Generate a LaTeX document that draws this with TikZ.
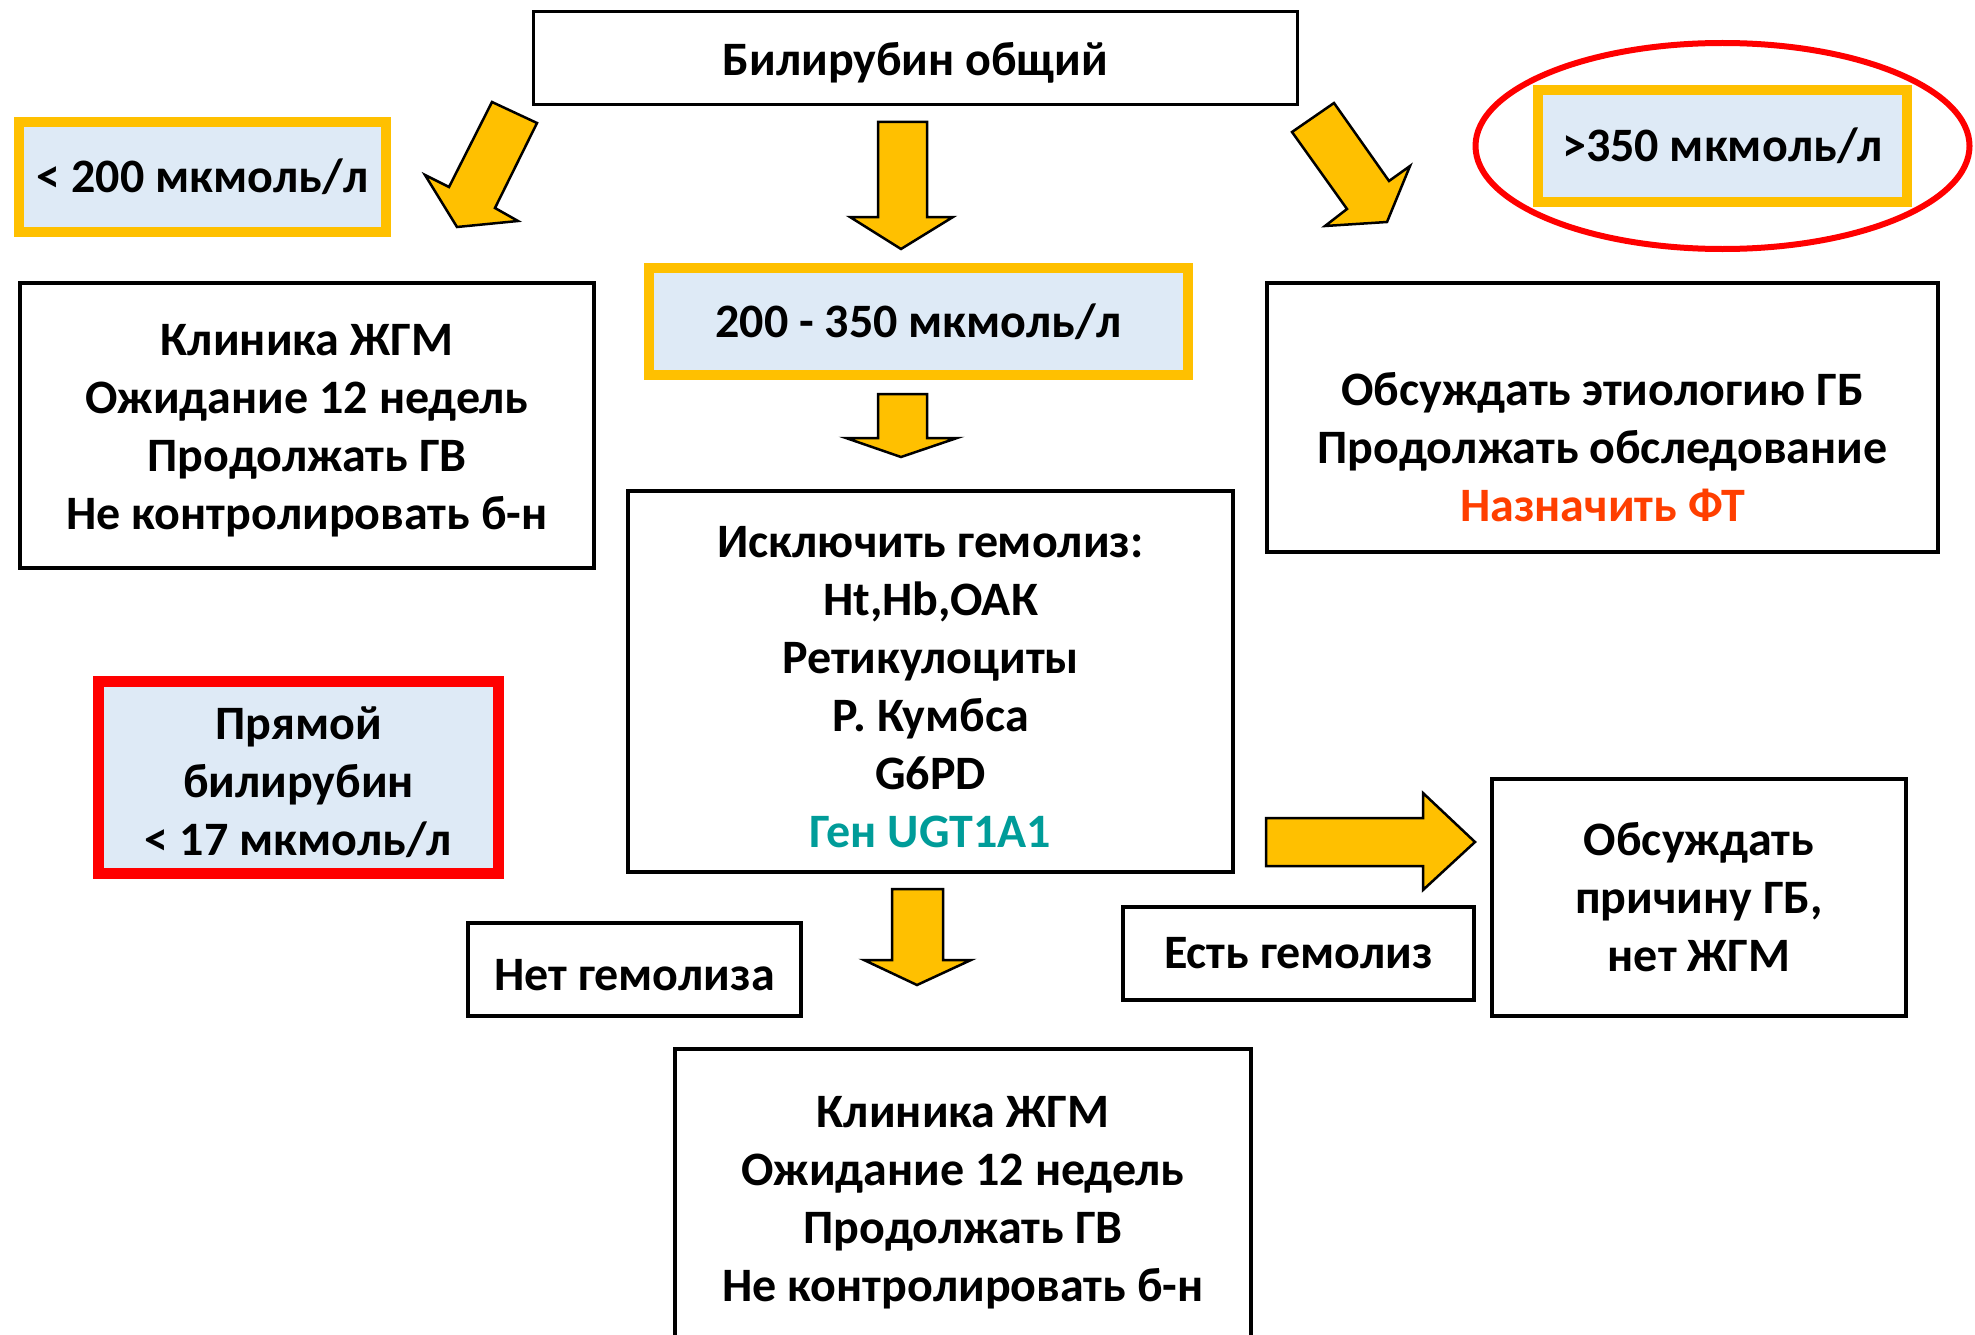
\documentclass[tikz,border=0pt]{standalone}
\usepackage{fontspec}
\setmainfont{Carlito}
\definecolor{zholt}{HTML}{FFC000}
\definecolor{goluboi}{HTML}{DEEAF6}
\definecolor{krasn}{HTML}{FF0000}
\definecolor{oranzh}{HTML}{FF3F00}
\definecolor{biruz}{HTML}{009C99}
\newcommand\verkh{\rule{0pt}{42pt}}
\begin{document}
\begin{tikzpicture}[x=1pt,y=-1pt,every node/.style={font=\fontsize{48}{58}\selectfont\bfseries,align=center},blok/.style={draw,line width=3.5pt,inner sep=0pt},porog/.style={draw=zholt,fill=goluboi,line width=10pt,inner sep=0pt},strelka/.style={fill=zholt,draw=black,line width=2.5pt,line join=miter}]
\clip (0,0) rectangle (1975,1335);
\node[blok,minimum width=764,minimum height=93] (obsh) at (915.5,58) {\verkh Билирубин общий};
\node[porog,minimum width=367,minimum height=110] (nizk) at (202.5,177) {< 200 мкмоль/л};
\node[porog,minimum width=539,minimum height=107] (sred) at (918.5,321.5) {200 - 350 мкмоль/л};
\node[porog,minimum width=369,minimum height=112] (vys) at (1722.5,146) {>350 мкмоль/л};
\draw[draw=krasn,line width=6pt] (vys) ellipse [x radius=247,y radius=103];
\node[blok,minimum width=574,minimum height=285] (zhgm) at (307,425.5) {\verkh Клиника ЖГМ\\Ожидание 12 недель\\Продолжать ГВ\\Не контролировать б-н};
\node[blok,minimum width=671,minimum height=269] (etio) at (1602.5,417.5) {\rule{0pt}{34pt}\\Обсуждать этиологию ГБ\\Продолжать обследование\\\textcolor{oranzh}{Назначить ФТ}};
\node[blok,minimum width=605,minimum height=381] (gemo) at (930.5,681.5) {\verkh Исключить гемолиз:\\Ht,Hb,ОАК\\Ретикулоциты\\Р. Кумбса\\G6PD\\\textcolor{biruz}{Ген UGT1A1}};
\node[draw=krasn,fill=goluboi,line width=11pt,inner sep=0pt,minimum width=400,minimum height=192] (pryam) at (298.5,777.5) {\verkh Прямой\\билирубин\\< 17 мкмоль/л};
\node[blok,minimum width=351,minimum height=93] (est) at (1298.5,953.5) {Есть гемолиз};
\node[blok,minimum width=414,minimum height=237] (prich) at (1699,897.5) {Обсуждать\\причину ГБ,\\нет ЖГМ};
\node[blok,minimum width=333,minimum height=93] (net) at (634.5,969.5) {\verkh Нет гемолиза};
\node[blok,minimum width=576,minimum height=296] (zhgm2) at (963,1197) {\verkh Клиника ЖГМ\\Ожидание 12 недель\\Продолжать ГВ\\Не контролировать б-н};
% strelki
\draw[strelka] (492,102)--(449,187)--(425,175)--(457,227)--(518,221)--(495,208)--(537,123)--cycle;
\draw[strelka] (878,122)--(878,217)--(850,217)--(901,249)--(953,217)--(927,217)--(927,122)--cycle;
\draw[strelka] (1334,103)--(1389,181)--(1410,166)--(1387,222)--(1325,226)--(1347,209)--(1292,132)--cycle;
\draw[strelka] (878,394)--(878,438)--(846,438)--(901,457)--(957,438)--(927,438)--(927,394)--cycle;
\draw[strelka] (892,889)--(892,960)--(864,960)--(917,985)--(971,960)--(943,960)--(943,889)--cycle;
\draw[strelka] (1266,818)--(1423,818)--(1423,793)--(1475,842)--(1423,890)--(1423,866)--(1266,866)--cycle;
\end{tikzpicture}
\end{document}
